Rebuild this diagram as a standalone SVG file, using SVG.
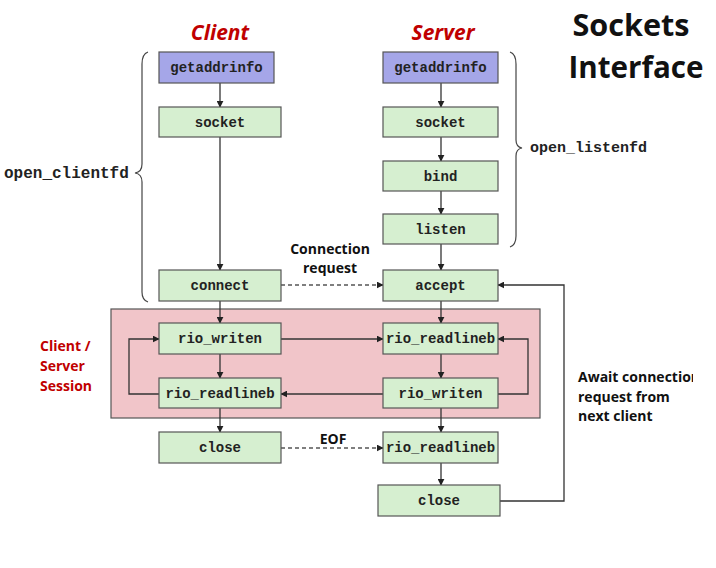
<svg xmlns="http://www.w3.org/2000/svg" width="716" height="568" viewBox="0 0 716 568">
<style>
.box{stroke:#555;stroke-width:1.2}
.g{fill:#d6efd0}
.p{fill:#a5a6e8}
.m{font-family:"Liberation Mono","Courier New",monospace;font-weight:bold;font-size:14px;fill:#222;text-anchor:middle}
.ln{fill:none;stroke:#333;stroke-width:1.3}
.ds{fill:none;stroke:#555;stroke-width:1.3;stroke-dasharray:4 3}
.br{fill:none;stroke:#444;stroke-width:1.2}
.lb{font-family:"Open Sans","Liberation Sans",sans-serif;font-weight:bold;font-size:14px;fill:#111}
.red{font-family:"Open Sans","Liberation Sans",sans-serif;font-weight:bold;fill:#c00000}
.big{font-family:"Open Sans","Liberation Sans",sans-serif;font-weight:bold;font-size:31px;fill:#111;text-anchor:middle}
</style>
<defs>
<marker id="ah" viewBox="0 0 10 10" refX="9" refY="5" markerWidth="7" markerHeight="7" markerUnits="userSpaceOnUse" orient="auto">
<path d="M0,0 L10,5 L0,10 z" fill="#222"/>
</marker>
<clipPath id="clipAwait"><rect x="570" y="360" width="123" height="70"/></clipPath>
</defs>
<rect width="716" height="568" fill="#fff"/>

<!-- titles -->
<text class="red" x="220" y="40" font-size="21" font-style="italic" text-anchor="middle">Client</text>
<text class="red" x="443" y="40" font-size="21" font-style="italic" text-anchor="middle">Server</text>
<text class="big" x="631" y="36" textLength="117" lengthAdjust="spacingAndGlyphs">Sockets</text>
<text class="big" x="636" y="78" textLength="135" lengthAdjust="spacingAndGlyphs">Interface</text>

<!-- session background -->
<g id="session">
<rect x="111" y="309" width="429" height="109" fill="#f1c5c9" stroke="#555" stroke-width="1.2"/>
<text class="red" font-size="14"><tspan x="40" y="351">Client /</tspan><tspan x="40" y="371">Server</tspan><tspan x="40" y="391">Session</tspan></text>
</g>

<!-- braces -->
<g id="braces">
<path class="br" d="M148,52 Q142,54 142,64 L142,164 Q142,172 135,173 Q142,174 142,182 L142,292 Q142,300 148,302"/>
<text x="4" y="178" font-family="Liberation Mono,monospace" font-weight="bold" font-size="16" fill="#222">open_clientfd</text>
<path class="br" d="M510,52 Q516,54 516,64 L516,140 Q516,147 522,148 Q516,149 516,156 L516,236 Q516,245 510,247"/>
<text x="530" y="152" font-family="Liberation Mono,monospace" font-weight="bold" font-size="15" fill="#222">open_listenfd</text>
</g>

<!-- connectors -->
<g id="connectors">
<path class="ln" d="M220,83 V107" marker-end="url(#ah)"/>
<path class="ln" d="M220,137 V270" marker-end="url(#ah)"/>
<path class="ln" d="M220,301 V323" marker-end="url(#ah)"/>
<path class="ln" d="M220,354 V378" marker-end="url(#ah)"/>
<path class="ln" d="M220,408 V432" marker-end="url(#ah)"/>
<path class="ln" d="M441,83 V107" marker-end="url(#ah)"/>
<path class="ln" d="M441,137 V161" marker-end="url(#ah)"/>
<path class="ln" d="M441,191 V214" marker-end="url(#ah)"/>
<path class="ln" d="M441,244 V270" marker-end="url(#ah)"/>
<path class="ln" d="M441,301 V323" marker-end="url(#ah)"/>
<path class="ln" d="M441,354 V378" marker-end="url(#ah)"/>
<path class="ln" d="M441,408 V432" marker-end="url(#ah)"/>
<path class="ln" d="M441,463 V485" marker-end="url(#ah)"/>
<path class="ds" d="M281,285 H383" marker-end="url(#ah)"/>
<path class="ds" d="M281,448 H383" marker-end="url(#ah)"/>
<path class="ln" d="M281,339 H383" marker-end="url(#ah)"/>
<path class="ln" d="M383,394 H281" marker-end="url(#ah)"/>
<path class="ln" d="M159,394 H129 V339 H159" marker-end="url(#ah)"/>
<path class="ln" d="M498,394 H528 V339 H498" marker-end="url(#ah)"/>
<path class="ln" d="M500,501 H564 V285 H498" marker-end="url(#ah)"/>
<text class="lb" x="330" y="254" text-anchor="middle">Connection</text>
<text class="lb" x="330" y="273" text-anchor="middle">request</text>
<text class="lb" x="333" y="444" text-anchor="middle" font-size="13">EOF</text>
<text class="lb" clip-path="url(#clipAwait)"><tspan x="578" y="382">Await connection</tspan><tspan x="578" y="402">request from</tspan><tspan x="578" y="421">next client</tspan></text>
</g>

<!-- client nodes -->
<g id="c_getaddrinfo"><rect class="box p" x="159" y="52" width="115" height="31"/><text class="m" x="216.5" y="72">getaddrinfo</text></g>
<g id="c_socket"><rect class="box g" x="159" y="107" width="122" height="30"/><text class="m" x="220" y="127">socket</text></g>
<g id="c_connect"><rect class="box g" x="159" y="270" width="122" height="31"/><text class="m" x="220" y="290">connect</text></g>
<g id="c_rio_writen"><rect class="box g" x="159" y="323" width="122" height="31"/><text class="m" x="220" y="343">rio_writen</text></g>
<g id="c_rio_readlineb"><rect class="box g" x="159" y="378" width="122" height="30"/><text class="m" x="220" y="398">rio_readlineb</text></g>
<g id="c_close"><rect class="box g" x="159" y="432" width="122" height="31"/><text class="m" x="220" y="452">close</text></g>

<!-- server nodes -->
<g id="s_getaddrinfo"><rect class="box p" x="383" y="52" width="115" height="31"/><text class="m" x="440.5" y="72">getaddrinfo</text></g>
<g id="s_socket"><rect class="box g" x="383" y="107" width="115" height="30"/><text class="m" x="440.5" y="127">socket</text></g>
<g id="s_bind"><rect class="box g" x="383" y="161" width="115" height="30"/><text class="m" x="440.5" y="181">bind</text></g>
<g id="s_listen"><rect class="box g" x="383" y="214" width="115" height="30"/><text class="m" x="440.5" y="234">listen</text></g>
<g id="s_accept"><rect class="box g" x="383" y="270" width="115" height="31"/><text class="m" x="440.5" y="290">accept</text></g>
<g id="s_rio_readlineb"><rect class="box g" x="383" y="323" width="115" height="31"/><text class="m" x="440.5" y="343">rio_readlineb</text></g>
<g id="s_rio_writen"><rect class="box g" x="383" y="378" width="115" height="30"/><text class="m" x="440.5" y="398">rio_writen</text></g>
<g id="s_rio_readlineb2"><rect class="box g" x="383" y="432" width="115" height="31"/><text class="m" x="440.5" y="452">rio_readlineb</text></g>
<g id="s_close"><rect class="box g" x="378" y="485" width="122" height="31"/><text class="m" x="439" y="505">close</text></g>
</svg>
